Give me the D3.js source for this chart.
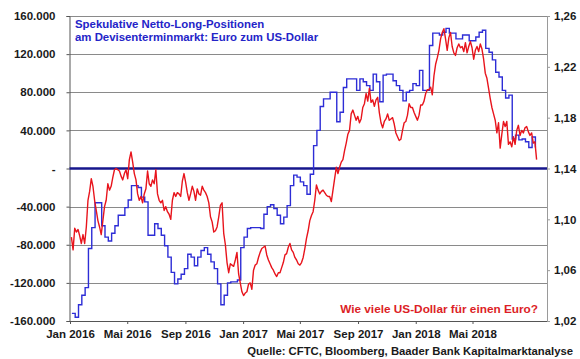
<!DOCTYPE html>
<html><head><meta charset="utf-8">
<script src="https://cdn.jsdelivr.net/npm/d3@7"></script>
<style>
body{margin:0;background:#fff}
svg{display:block}
text{font-family:"Liberation Sans",Arial,sans-serif;font-weight:bold}
</style></head>
<body><svg id="chart" width="580" height="359"></svg>
<script>
// ---- data ----
// CFTC speculative net long positions EUR (thousands of contracts), weekly from 2016-01-05
const blueStart = "2016-01-05";
const blueValues = [
-152,-156,-143,-133,-125,-84,-62,-36,-36,-60,-72,-76,-68,-60,-49,-49,-41,-33,-18,-18,
-20,-30,-35,-70,-70,-58,-63,-70,-81,-93,-109,-121,-116,-111,-105,-90,-93,-102,-93,-86,
-83,-90,-98,-105,-121,-143,-133,-120,-119,-119,-117,-83,-72,-63,-62,-62,-62,-63,-48,-40,
-38,-42,-49,-58,-51,-39,-18,-7,-9,-14,-18,-27,-6,24,40,65,73,73,80,80,
49,59,85,94,94,94,82,94,91,87,82,99,91,70,98,99,99,92,87,82,
71,80,82,89,87,103,82,82,129,142,142,140,143,147,142,142,136,136,140,140,
134,134,138,143,145,126,122,114,101,96,82,74,77,31,35,30,31,28,22,33,22
];
// EUR/USD, sampled every 3.5 days from 2016-01-04
const redStart = "2016-01-04";
const redValues = [
1.086,1.076,1.093,1.090,1.092,1.087,1.081,1.088,1.081,1.094,1.115,1.122,1.132,1.126,1.115,1.107,1.099,1.094,1.088,1.099,
1.110,1.115,1.128,1.123,1.126,1.133,1.139,1.140,1.139,1.138,1.134,1.131,1.136,1.139,1.132,1.147,1.153,1.145,1.136,1.131,
1.120,1.115,1.118,1.113,1.120,1.124,1.138,1.128,1.126,1.131,1.128,1.139,1.120,1.115,1.113,1.115,1.107,1.110,1.106,1.104,
1.100,1.115,1.121,1.118,1.121,1.120,1.118,1.130,1.136,1.129,1.121,1.115,1.120,1.126,1.122,1.115,1.124,1.120,1.119,1.126,
1.123,1.121,1.118,1.113,1.102,1.098,1.090,1.091,1.094,1.102,1.111,1.113,1.089,1.080,1.066,1.058,1.065,1.064,1.063,1.068,
1.074,1.057,1.050,1.043,1.040,1.042,1.043,1.049,1.050,1.045,1.060,1.064,1.065,1.070,1.074,1.077,1.078,1.079,1.072,1.068,
1.065,1.062,1.060,1.057,1.055,1.058,1.058,1.062,1.066,1.072,1.073,1.078,1.081,1.076,1.074,1.070,1.068,1.065,1.064,1.066,
1.070,1.077,1.085,1.091,1.099,1.103,1.106,1.115,1.127,1.123,1.120,1.122,1.123,1.121,1.119,1.118,1.118,1.114,1.123,1.132,
1.141,1.136,1.141,1.145,1.147,1.154,1.160,1.167,1.170,1.183,1.186,1.182,1.178,1.181,1.176,1.179,1.188,1.191,1.199,1.193,
1.203,1.192,1.194,1.189,1.194,1.196,1.184,1.176,1.172,1.177,1.179,1.183,1.178,1.179,1.180,1.175,1.168,1.165,1.162,1.163,
1.170,1.176,1.177,1.182,1.191,1.188,1.188,1.184,1.181,1.178,1.182,1.190,1.190,1.193,1.199,1.202,1.202,1.204,1.198,1.213,
1.222,1.227,1.233,1.242,1.247,1.250,1.242,1.233,1.243,1.247,1.236,1.231,1.229,1.235,1.238,1.235,1.236,1.232,1.239,1.231,
1.236,1.240,1.235,1.226,1.233,1.236,1.232,1.238,1.234,1.226,1.215,1.211,1.203,1.195,1.188,1.183,1.178,1.168,1.176,1.156,
1.167,1.177,1.173,1.177,1.159,1.161,1.157,1.165,1.159,1.170,1.174,1.166,1.170,1.168,1.172,1.173,1.169,1.166,1.168,1.160,
1.161,1.147
];
const xTickDates = ["2016-01-01","2016-05-01","2016-09-01","2017-01-01","2017-05-01","2017-09-01","2018-01-01","2018-05-01"];
const xTickLabels = ["Jan 2016","Mai 2016","Sep 2016","Jan 2017","Mai 2017","Sep 2017","Jan 2018","Mai 2018"];
const leftTicks = [160,120,80,40,0,-40,-80,-120,-160];
const leftTickLabels = ["160.000","120.000","80.000","40.000","-","-40.000","-80.000","-120.000","-160.000"];
const rightTicks = [1.26,1.22,1.18,1.14,1.10,1.06,1.02];
const rightTickLabels = ["1,26","1,22","1,18","1,14","1,10","1,06","1,02"];
const titleLines = ["Spekulative Netto-Long-Positionen","am Devisenterminmarkt: Euro zum US-Dollar"];
const redNote = "Wie viele US-Dollar für einen Euro?";
const sourceNote = "Quelle: CFTC, Bloomberg, Baader Bank Kapitalmarktanalyse";

// ---- layout ----
const L = 69.5, R = 547, T = 16, B = 321;
const parse = d3.timeParse("%Y-%m-%d");
const svg = d3.select("#chart");

const x = d3.scaleTime().domain([parse("2016-01-01"), new Date(2018, 9, 5, 12)]).range([70, R]);
const yL = d3.scaleLinear().domain([-160, 160]).range([B, T]);
const yR = d3.scaleLinear().domain([1.02, 1.26]).range([B, T]);

const b0 = parse(blueStart), r0 = parse(redStart);
const blue = blueValues.map((v, i) => ({d: d3.timeDay.offset(b0, 7 * i), v}));
const red = redValues.map((v, i) => ({d: d3.timeHour.offset(r0, 84 * i), v}));

// gridlines
svg.append("g").selectAll("line").data(leftTicks.filter(t => t !== 0 && t !== -160)).join("line")
  .attr("x1", L).attr("x2", R).attr("y1", d => Math.round(yL(d)) + 0.5).attr("y2", d => Math.round(yL(d)) + 0.5)
  .attr("stroke", "#8a8a8a").attr("stroke-width", 1);

// left axis
const ga = svg.append("g").attr("transform", `translate(${L},0)`)
  .call(d3.axisLeft(yL).tickValues(leftTicks).tickFormat((d, i) => leftTickLabels[i]).tickSize(3).tickPadding(11));
ga.select(".domain").attr("stroke", "#555");
ga.selectAll(".tick line").attr("stroke", "#555");
ga.selectAll("text").attr("font-size", 11.5).attr("fill", "#1a1a1a");

// right axis
const gr = svg.append("g").attr("transform", `translate(${R},0)`)
  .call(d3.axisRight(yR).tickValues(rightTicks).tickFormat((d, i) => rightTickLabels[i]).tickSize(3).tickPadding(4));
gr.select(".domain").attr("stroke", "#9a9a9a");
gr.selectAll(".tick line").attr("stroke", "#9a9a9a");
gr.selectAll("text").attr("font-size", 11.5).attr("fill", "#1a1a1a");

// bottom axis
const gb = svg.append("g").attr("transform", `translate(0,${B})`)
  .call(d3.axisBottom(x).tickValues(xTickDates.map(parse)).tickFormat((d, i) => xTickLabels[i]).tickSize(3).tickPadding(6));
gb.select(".domain").attr("stroke", "#555").attr("d", `M${L},0.5H${R}`);
gb.selectAll(".tick line").attr("stroke", "#555");
gb.selectAll("text").attr("font-size", 11.5).attr("fill", "#1a1a1a");

// zero line
svg.append("line").attr("x1", L).attr("x2", R).attr("y1", yL(0)).attr("y2", yL(0))
  .attr("stroke", "#16168c").attr("stroke-width", 2.5);

// blue series (step)
svg.append("path").datum(blue)
  .attr("d", d3.line().x(d => x(d.d)).y(d => yL(d.v)).curve(d3.curveStepAfter))
  .attr("fill", "none").attr("stroke", "#2d2dd6").attr("stroke-width", 1.4);

// red series
svg.append("path").datum(red)
  .attr("d", d3.line().x(d => x(d.d)).y(d => yR(d.v)))
  .attr("fill", "none").attr("stroke", "#e8141c").attr("stroke-width", 1.4).attr("stroke-linejoin", "round");

// titles & notes
svg.append("text").attr("x", 75).attr("y", 28).attr("font-size", 11.4).attr("fill", "#2424c8")
  .selectAll("tspan").data(titleLines).join("tspan").attr("x", 75).attr("dy", (d, i) => i ? 12.5 : 0).text(d => d);
svg.append("text").attr("x", 538).attr("y", 313).attr("text-anchor", "end").attr("font-size", 11.8)
  .attr("fill", "#dc1e26").text(redNote);
svg.append("text").attr("x", 573).attr("y", 355).attr("text-anchor", "end").attr("font-size", 11.3)
  .attr("fill", "#1a1a1a").text(sourceNote);
</script></body></html>
